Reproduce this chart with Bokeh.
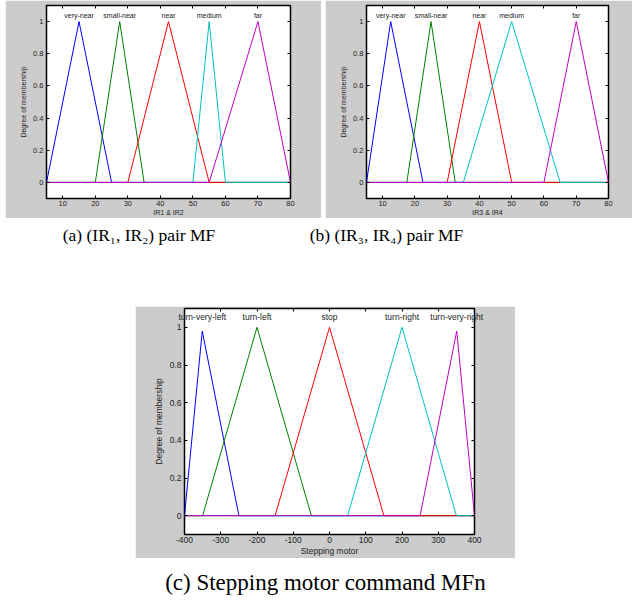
from bokeh.plotting import figure
from bokeh.models import (Range1d, LinearAxis, FixedTicker, PrintfTickFormatter, Spacer)
from bokeh.layouts import column, row
from bokeh.embed import file_html
from bokeh.resources import INLINE
from bokeh.core.properties import value

# ---------------- data ----------------
mf_colors = ["#0000FF", "#008000", "#FF0000", "#00BFBF", "#BF00BF"]
y_ticks = [0, 0.2, 0.4, 0.6, 0.8, 1]

# (a) IR1 & IR2
a_names = ["very-near", "small-near", "near", "medium", "far"]
a_left = [5, 20, 30, 50, 55]
a_peak = [15, 27.5, 42.5, 55, 70]
a_right = [25, 35, 55, 60, 80]
a_top = [1, 1, 1, 1, 1]
a_xlabel = "IR1 & IR2"
a_xrange = [5, 80]
a_xticks = [10, 20, 30, 40, 50, 60, 70, 80]

# (b) IR3 & IR4
b_names = ["very-near", "small-near", "near", "medium", "far"]
b_left = [5, 17.5, 30, 35, 60]
b_peak = [12.5, 25, 40, 50, 70]
b_right = [22.5, 32.5, 50, 65, 80]
b_top = [1, 1, 1, 1, 1]
b_xlabel = "IR3 & IR4"
b_xrange = [5, 80]
b_xticks = [10, 20, 30, 40, 50, 60, 70, 80]

# (c) Stepping motor
c_names = ["turn-very-left", "turn-left", "stop", "turn-right", "turn-very-right"]
c_left = [-400, -350, -150, 50, 250]
c_peak = [-351, -200, 0, 200, 351]
c_right = [-250, -50, 150, 350, 400]
c_top = [0.98, 1, 1, 1, 0.98]
c_xlabel = "Stepping motor"
c_xrange = [-400, 400]
c_xticks = [-400, -300, -200, -100, 0, 100, 200, 300, 400]

captions_top = ["(a) (IR\u2081, IR\u2082) pair MF", "(b) (IR\u2083, IR\u2084) pair MF"]
caption_bottom = "(c) Stepping motor command MFn"

GRAY = "#CCCCCC"
TXT = "#222222"
SANS = "Liberation Sans"
SERIF = "Liberation Serif"


def panel(names, left, peak, right, top, xlabel, xrange, xticks,
          w, h, bl, br, bt, bb, fs_tick, fs_lab, name_standoff):
    p = figure(width=w, height=h, x_range=Range1d(*xrange), y_range=Range1d(-0.1, 1.1),
               toolbar_location=None, output_backend="svg",
               min_border_left=bl, min_border_right=br, min_border_top=bt, min_border_bottom=bb,
               background_fill_color="white", border_fill_color=GRAY,
               outline_line_color="black", outline_line_width=1.5)
    p.grid.visible = False
    lo, hi = xrange
    for i in range(len(names)):
        xs = [lo, left[i], peak[i], right[i], hi]
        ys = [0, 0, top[i], 0, 0]
        p.line(xs, ys, line_color=mf_colors[i], line_width=1)

    xax = p.below[0]
    yax = p.left[0]
    for ax in (xax, yax):
        ax.axis_line_color = None
        ax.major_tick_in = 3
        ax.major_tick_out = 0
        ax.minor_tick_line_color = None
        ax.major_tick_line_color = "black"
        ax.major_label_text_font = SANS
        ax.major_label_text_font_size = fs_tick
        ax.major_label_text_color = TXT
        ax.axis_label_text_font = SANS
        ax.axis_label_text_font_size = fs_lab
        ax.axis_label_text_font_style = "normal"
        ax.axis_label_text_color = TXT
        ax.formatter = PrintfTickFormatter(format="%g")
    xax.ticker = FixedTicker(ticks=xticks)
    yax.ticker = FixedTicker(ticks=y_ticks)
    xax.axis_label = xlabel
    yax.axis_label = "Degree of membership"
    xax.major_label_standoff = 2
    xax.axis_label_standoff = 0
    yax.major_label_standoff = 3
    yax.axis_label_standoff = 3

    # MF names: top-axis labels drawn inside the box (so they are not clipped at the box edge)
    name_ax = LinearAxis(ticker=FixedTicker(ticks=peak),
                         major_label_overrides={pk: nm for pk, nm in zip(peak, names)})
    name_ax.axis_line_color = None
    name_ax.major_tick_line_color = None
    name_ax.minor_tick_line_color = None
    name_ax.major_tick_out = 0
    name_ax.major_tick_in = 0
    name_ax.major_label_standoff = name_standoff
    name_ax.major_label_text_font = SANS
    name_ax.major_label_text_font_size = fs_lab
    name_ax.major_label_text_color = TXT
    p.add_layout(name_ax, "above")

    # mirrored inner ticks (box on), no labels
    for loc, tk in (("right", y_ticks), ("above", xticks)):
        ax = LinearAxis(ticker=FixedTicker(ticks=tk))
        ax.axis_line_color = None
        ax.major_tick_in = 3
        ax.major_tick_out = 0
        ax.minor_tick_line_color = None
        ax.major_label_text_font_size = "1px"
        ax.major_label_text_color = None
        ax.major_label_standoff = 0
        p.add_layout(ax, loc)
    return p


fa = panel(a_names, a_left, a_peak, a_right, a_top, a_xlabel, a_xrange, a_xticks,
           316, 218, 41, 31, 5, 18, "7.5px", "7px", -13)
fb = panel(b_names, b_left, b_peak, b_right, b_top, b_xlabel, b_xrange, b_xticks,
           307, 218, 41, 24, 5, 18, "7.5px", "7px", -13)
fc = panel(c_names, c_left, c_peak, c_right, c_top, c_xlabel, c_xrange, c_xticks,
           380, 252, 49, 41, 2, 21, "8.5px", "8.5px", -13)


def caption_strip(w, h, y0, xs, ys, texts, fs):
    p = figure(width=w, height=h, x_range=Range1d(0, w), y_range=Range1d(y0 + h, y0),
               toolbar_location=None, output_backend="svg", min_border=0,
               x_axis_type=None, y_axis_type=None, outline_line_color=None,
               background_fill_color="white", border_fill_color="white")
    p.grid.visible = False
    p.text(x=xs, y=ys, text=texts, text_font=value(SERIF), text_font_size=fs,
           text_align="center", text_baseline="middle", text_color="black")
    return p


cap1 = caption_strip(632, 88, 218, [138.5, 386], [234, 234], captions_top, "17.5px")
cap2 = caption_strip(632, 50, 558, [325], [582], [caption_bottom], "23px")

layout = column(
    row(Spacer(width=5), fa, Spacer(width=4), fb),
    cap1,
    row(Spacer(width=135), fc),
    cap2,
)

open("out.html", "w").write(file_html(layout, INLINE))
